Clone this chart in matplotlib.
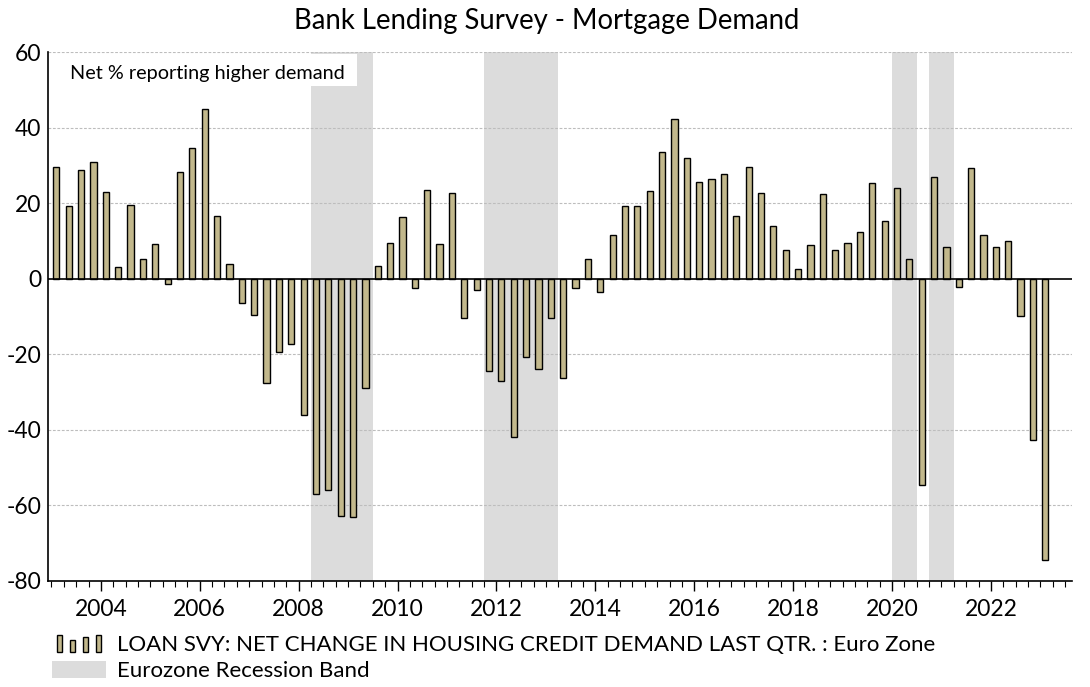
import matplotlib
matplotlib.use("Agg")
import matplotlib.pyplot as plt
from matplotlib.patches import Rectangle, Patch
from matplotlib.legend_handler import HandlerBase
import numpy as np

plt.rcParams['font.family'] = ['Lato', 'DejaVu Sans']

# ---- data ----
start_year = 2003  # first quarter: 2003 Q1
values = [
    29.6, 19.2, 28.8, 30.9,      # 2003
    22.9, 3.0, 19.5, 5.2,        # 2004
    9.2, -1.5, 28.2, 34.7,       # 2005
    45.0, 16.6, 3.9, -6.3,       # 2006
    -9.7, -27.7, -19.5, -17.2,   # 2007
    -36.2, -56.9, -55.8, -62.7,  # 2008
    -63.0, -29.0, 3.3, 9.5,      # 2009
    16.3, -2.5, 23.5, 9.2,       # 2010
    22.7, -10.4, -3.1, -24.4,    # 2011
    -27.0, -41.8, -20.6, -24.0,  # 2012
    -10.4, -26.2, -2.5, 5.2,     # 2013
    -3.4, 11.6, 19.2, 19.2,      # 2014
    23.2, 33.6, 42.4, 32.0,      # 2015
    25.6, 26.4, 27.8, 16.6,      # 2016
    29.6, 22.7, 13.9, 7.6,       # 2017
    2.6, 8.9, 22.5, 7.6,         # 2018
    9.5, 12.3, 25.4, 15.3,       # 2019
    24.1, 5.2, -54.6, 26.9,      # 2020
    8.3, -2.2, 29.4, 11.6,       # 2021
    8.3, 10.0, -9.8, -42.6,      # 2022
    -74.5,                       # 2023
]
recession_start = [2008.25, 2011.75, 2020.0, 2020.75]
recession_end = [2009.5, 2013.25, 2020.5, 2021.25]
year_ticks = [2004, 2006, 2008, 2010, 2012, 2014, 2016, 2018, 2020, 2022]
y_ticks = [-80, -60, -40, -20, 0, 20, 40, 60]

title = "Bank Lending Survey - Mortgage Demand"
note = "Net % reporting higher demand"
series_label = "LOAN SVY: NET CHANGE IN HOUSING CREDIT DEMAND LAST QTR. : Euro Zone"
band_label = "Eurozone Recession Band"

bar_color = "#c2b88c"
band_color = "#dcdcdc"

x = np.array([start_year + i * 0.25 + 0.1 for i in range(len(values))])

fig = plt.figure(figsize=(10.9, 6.87), dpi=100)
ax = fig.add_axes([0.044, 0.1543, 0.9395, 0.77])

for s, e in zip(recession_start, recession_end):
    ax.axvspan(s, e, color=band_color, lw=0, zorder=0)

for yv in y_ticks:
    if yv != 0:
        ax.axhline(yv, color="#bdbdbd", lw=0.8, ls=(0, (2.5, 1.5)), zorder=1)

ax.bar(x, values, width=0.125, color=bar_color, edgecolor="black", linewidth=1.0, zorder=3)
ax.axhline(0, color="black", lw=1.2, zorder=4)

ax.set_xlim(2002.93, 2023.64)
ax.set_ylim(-80, 60)
ax.set_yticks(y_ticks)
ax.set_yticklabels([str(v) for v in y_ticks])
ax.set_xticks(year_ticks)
ax.set_xticklabels([str(v) for v in year_ticks])
ax.set_xticks(np.arange(2003, 2023.6, 0.25), minor=True)
ax.tick_params(axis='x', which='major', direction='out', length=7, width=1, labelsize=16.5, pad=6)
ax.tick_params(axis='x', which='minor', direction='out', length=4, width=0.8)
ax.tick_params(axis='y', which='both', length=0, labelsize=16.5, pad=5)
for side in ["top", "right"]:
    ax.spines[side].set_visible(False)
for side in ["left", "bottom"]:
    ax.spines[side].set_linewidth(1.2)
    ax.spines[side].set_zorder(7)

ax.add_patch(Rectangle((0.0, 0.935), 0.302, 0.062, transform=ax.transAxes,
                       facecolor="white", edgecolor="none", zorder=1.5))
ax.text(0.0215, 0.959, note, transform=ax.transAxes, fontsize=14.3, va="center", ha="left",
        zorder=6)

fig.text(0.502, 0.970, title, ha="center", va="center", fontsize=19.8)


class BarsHandler(HandlerBase):
    def create_artists(self, legend, orig_handle, xdescent, ydescent, width, height, fontsize, trans):
        heights = [1.0, 0.72, 0.85, 1.0]
        bw = width * 0.095
        pitch = width * 0.24
        x0 = -xdescent + width * 0.09
        arts = []
        for i, h in enumerate(heights):
            r = Rectangle((x0 + i * pitch, -ydescent), bw, height * h,
                          facecolor=bar_color, edgecolor="black", lw=1.0, transform=trans)
            arts.append(r)
        return arts


bar_handle = Patch(facecolor=bar_color, edgecolor="black")
band_handle = Patch(facecolor=band_color, edgecolor="none")
fig.legend([bar_handle, band_handle], [series_label, band_label],
           handler_map={bar_handle: BarsHandler()},
           loc="upper left", bbox_to_anchor=(0.0477, 0.076), frameon=False,
           fontsize=16, handlelength=2.43, handleheight=0.8, handletextpad=0.48,
           labelspacing=0.28, borderpad=0, borderaxespad=0)

fig.savefig("out.png", dpi=100)
